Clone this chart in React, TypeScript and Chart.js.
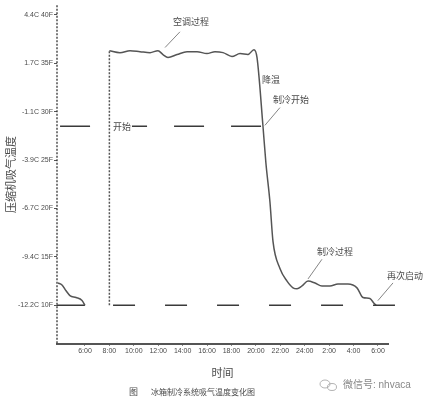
import React, { useEffect, useRef } from "react";
import { Chart, registerables } from "chart.js";

Chart.register(...registerables);

// ---- data ----
const xTickValues = [6, 8, 10, 12, 14, 16, 18, 20, 22, 24, 26, 28, 30];
const xTickLabels = ["6:00", "8:00", "10:00", "12:00", "14:00", "16:00", "18:00", "20:00", "22:00", "24:00", "2:00", "4:00", "6:00"];
const yTickValuesF = [10, 15, 20, 25, 30, 35, 40];
const yTickLabels = ["-12.2C 10F", "-9.4C 15F", "-6.7C 20F", "-3.9C 25F", "-1.1C 30F", "1.7C 35F", "4.4C 40F"];

const preHours = [3.79, 4.12, 4.45, 4.77, 5.27, 5.76, 6.0];
const preTemps = [12.3, 12.1, 11.5, 11.0, 10.8, 10.5, 10.0];

const mainHours = [8.0, 8.87, 9.69, 10.51, 11.33, 11.98, 12.39, 12.8, 13.54, 14.36, 15.18, 15.99, 16.65, 17.31, 18.04, 18.7, 19.35, 19.84, 20.09, 20.58, 20.82, 21.15, 21.4, 21.97, 22.55, 23.04, 23.37, 23.78, 24.27, 24.84, 25.41, 26.07, 26.72, 27.54, 28.28, 28.77, 29.34, 29.67, 29.84];
const mainTemps = [36.3, 36.1, 36.3, 36.2, 36.1, 36.3, 35.9, 35.6, 35.9, 36.2, 36.2, 36.0, 36.2, 36.1, 35.7, 36.0, 35.9, 36.4, 35.6, 28.5, 24.7, 20.7, 16.6, 13.8, 12.5, 11.8, 11.7, 12.0, 12.5, 12.3, 12.0, 12.0, 12.2, 12.2, 11.8, 10.8, 10.7, 10.2, 10.0];

const lowLevelF = 10;
const highLevelF = 28.5;
const baseHours = [3.71, 6.0];
const lowDashHours = [8.3, 31.39];
const highDashHours = [3.96, 20.58];
const startHour = 8.0;
const startTopF = 36.3;

// annotations: text, text anchor (hour, F), leader line (hour,F)->(hour,F)
const annTexts = ["空调过程", "降温", "制冷开始", "开始", "制冷过程", "再次启动"];
const annAt = [[14.68, 39.17], [21.24, 33.17], [22.87, 31.13], [9.03, 28.38], [26.48, 15.46], [30.74, 13.02]];
const annLeaders = [[13.78, 38.25, 12.56, 36.63], null, [21.97, 30.42, 20.74, 28.59], null, [25.41, 14.75, 24.27, 12.72], [31.23, 12.31, 29.99, 10.48]];

const caption = "冰箱制冷系统吸气温度变化图";
const watermark = "微信号: nhvaca";

const FONT = "'Liberation Sans', 'Noto Sans CJK SC', sans-serif";
const INK = "#4a4a4a";

const pts = (xs: number[], ys: number[]) => xs.map((x, i) => ({ x, y: ys[i] }));

const axisPlugin = {
  id: "dottedYAxis",
  beforeDatasetsDraw(chart: any) {
    const { ctx, chartArea } = chart;
    ctx.save();
    ctx.strokeStyle = "#333";
    ctx.lineWidth = 1.3;
    ctx.setLineDash([2, 1.5]);
    ctx.beginPath();
    ctx.moveTo(chartArea.left, chartArea.top);
    ctx.lineTo(chartArea.left, chartArea.bottom);
    ctx.stroke();
    ctx.restore();
  },
};

const textPlugin = {
  id: "textPlugin",
  afterDatasetsDraw(chart: any) {
    const { ctx, scales } = chart;
    const x = scales.x;
    const y = scales.y;
    ctx.save();
    ctx.font = `9px ${FONT}`;
    ctx.textBaseline = "middle";
    annTexts.forEach((t, i) => {
      const [hx, fy] = annAt[i];
      const px = x.getPixelForValue(hx);
      const py = y.getPixelForValue(fy);
      const leftAligned = i === annTexts.length - 1;
      ctx.textAlign = leftAligned ? "left" : "center";
      if (t === "开始") {
        const w = ctx.measureText(t).width;
        ctx.fillStyle = "#fff";
        ctx.fillRect(px - w / 2 - 1, py - 5, w + 2, 10);
      }
      ctx.fillStyle = INK;
      ctx.fillText(t, px, py);
      const l = annLeaders[i];
      if (l) {
        ctx.strokeStyle = "#666";
        ctx.lineWidth = 0.8;
        ctx.beginPath();
        ctx.moveTo(x.getPixelForValue(l[0]), y.getPixelForValue(l[1]));
        ctx.lineTo(x.getPixelForValue(l[2]), y.getPixelForValue(l[3]));
        ctx.stroke();
      }
    });
    // caption
    const cy = chart.height - 13;
    ctx.fillStyle = INK;
    ctx.textAlign = "left";
    ctx.font = `9px ${FONT}`;
    ctx.fillText("图", 129, cy);
    ctx.font = `8px ${FONT}`;
    ctx.fillText(caption, 151, cy);
    // watermark
    ctx.strokeStyle = "#aaa";
    ctx.lineWidth = 0.9;
    ctx.beginPath();
    ctx.ellipse(325, chart.height - 22, 5, 4, 0, 0, Math.PI * 2);
    ctx.stroke();
    ctx.beginPath();
    ctx.ellipse(332, chart.height - 19, 4.5, 3.5, 0, 0, Math.PI * 2);
    ctx.stroke();
    ctx.fillStyle = "#888";
    ctx.font = `10px ${FONT}`;
    ctx.fillText(watermark, 343, chart.height - 21);
    ctx.restore();
  },
};

export default function App() {
  const ref = useRef<HTMLCanvasElement | null>(null);
  useEffect(() => {
    if (!ref.current) return;
    const curveStyle = { borderColor: "#555", borderWidth: 1.5, pointRadius: 0, fill: false, cubicInterpolationMode: "monotone" as const };
    const lineStyle = { borderColor: "#3a3a3a", borderWidth: 1.6, pointRadius: 0, fill: false, tension: 0 };
    const chart = new Chart(ref.current, {
      type: "line",
      data: {
        datasets: [
          { ...curveStyle, data: pts(preHours, preTemps) },
          { ...lineStyle, data: pts(baseHours, [lowLevelF, lowLevelF]) },
          { ...lineStyle, borderDash: [22, 30], clip: false, data: pts(lowDashHours, [lowLevelF, lowLevelF]) },
          { ...lineStyle, borderDash: [30, 27], data: pts(highDashHours, [highLevelF, highLevelF]) },
          { ...lineStyle, borderWidth: 1.5, borderColor: "#555", borderDash: [2, 1.5], data: pts([startHour, startHour], [lowLevelF, startTopF]) },
          { ...curveStyle, data: pts(mainHours, mainTemps) },
        ],
      },
      options: {
        animation: false,
        responsive: false,
        layout: { padding: { left: 0, right: 37, top: 0, bottom: 20 } },
        plugins: { legend: { display: false }, tooltip: { enabled: false }, title: { display: false } },
        scales: {
          x: {
            type: "linear",
            min: 3.71,
            max: 30.82,
            afterFit: (s: any) => { s.height = 42; },
            afterBuildTicks: (s: any) => { s.ticks = xTickValues.map((v) => ({ value: v })); },
            ticks: {
              autoSkip: false,
              maxRotation: 0,
              padding: 1,
              color: INK,
              font: { size: 7, family: FONT },
              callback: (v: any) => { const i = xTickValues.indexOf(Number(v)); return i >= 0 ? xTickLabels[i] : ""; },
            },
            grid: { drawOnChartArea: false, drawTicks: true, tickLength: 2, color: "#888" },
            border: { display: true, color: "#555", width: 2 },
            title: { display: true, text: "时间", color: INK, font: { size: 11, family: FONT }, padding: { top: 0, bottom: 5 } },
          },
          y: {
            type: "linear",
            min: 6,
            max: 41,
            afterFit: (s: any) => { s.width = 57; },
            afterBuildTicks: (s: any) => { s.ticks = yTickValuesF.map((v) => ({ value: v })); },
            ticks: {
              padding: 1,
              color: INK,
              font: { size: 7, family: FONT },
              callback: (v: any) => { const i = yTickValuesF.indexOf(Number(v)); return i >= 0 ? yTickLabels[i] : ""; },
            },
            grid: { drawOnChartArea: false, drawTicks: true, tickLength: 3, color: "#555" },
            border: { display: false },
            title: { display: true, text: "压缩机吸气温度", color: INK, font: { size: 11, family: FONT }, padding: { top: 5, bottom: 0 } },
          },
        },
      },
      plugins: [axisPlugin, textPlugin],
    });
    return () => chart.destroy();
  }, []);
  return (
    <div style={{ position: "fixed", left: 0, top: 0, width: 425, height: 406, background: "#fff" }}>
      <canvas ref={ref} width={425} height={406} style={{ display: "block" }} />
    </div>
  );
}
